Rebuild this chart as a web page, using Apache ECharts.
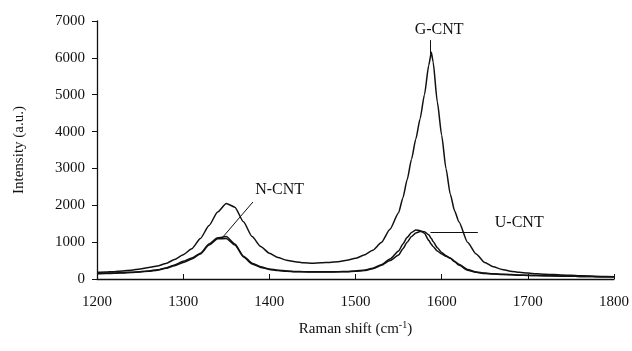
<!DOCTYPE html>
<html>
<head>
<meta charset="utf-8">
<script src="https://cdn.jsdelivr.net/npm/echarts@6/dist/echarts.min.js"></script>
<style>
  html, body { margin: 0; padding: 0; background: #fff; }
  #chart { width: 632px; height: 351px; }
</style>
</head>
<body>
<div id="chart"></div>
<script>
// Raman shift (cm-1), shared by all spectra
const shift = [1200, 1210, 1220, 1230, 1240, 1250, 1260, 1270, 1280, 1290,
  1300, 1310, 1320, 1330, 1340, 1350, 1360, 1370, 1380, 1390,
  1400, 1410, 1420, 1430, 1440, 1450, 1460, 1470, 1480, 1490,
  1500, 1510, 1520, 1530, 1540, 1550, 1555, 1560, 1565, 1570,
  1575, 1580, 1585, 1588, 1590, 1595, 1600, 1605, 1610, 1615,
  1620, 1630, 1640, 1650, 1660, 1670, 1680, 1690, 1700, 1710,
  1720, 1730, 1740, 1750, 1760, 1770, 1780, 1790, 1800];

const gCnt = [180, 190, 200, 220, 240, 270, 310, 350, 420, 530,
  660, 820, 1100, 1450, 1820, 2050, 1950, 1550, 1150, 880,
  700, 580, 510, 470, 440, 430, 440, 450, 470, 510,
  560, 650, 780, 990, 1350, 1800, 2200, 2700, 3250, 3800,
  4350, 5000, 5800, 6150, 5900, 4800, 3900, 3000, 2300, 1850,
  1550, 1000, 680, 450, 330, 260, 210, 180, 160, 140,
  130, 120, 110, 100, 90, 80, 70, 65, 60];

const nCnt = [150, 160, 165, 175, 185, 200, 220, 250, 300, 380,
  480, 570, 700, 950, 1120, 1150, 950, 620, 430, 330,
  270, 240, 220, 205, 200, 195, 195, 195, 200, 205,
  215, 240, 290, 390, 540, 760, 950, 1130, 1260, 1330,
  1310, 1240, 1050, 940, 880, 760, 680, 620, 570, 480,
  400, 260, 190, 160, 140, 130, 120, 110, 100, 95,
  90, 85, 80, 75, 70, 68, 65, 62, 60];

const uCnt = [140, 150, 155, 165, 175, 190, 210, 240, 290, 360,
  450, 540, 680, 920, 1090, 1100, 920, 600, 410, 315,
  260, 230, 210, 200, 195, 190, 190, 190, 195, 200,
  210, 230, 275, 370, 500, 650, 820, 1000, 1150, 1250,
  1290, 1285, 1200, 1100, 1020, 850, 720, 630, 560, 470,
  380, 240, 180, 150, 135, 125, 115, 105, 98, 92,
  88, 82, 78, 74, 70, 66, 63, 60, 58];

const xTicks = [1200, 1300, 1400, 1500, 1600, 1700, 1800];
const yTicks = [0, 1000, 2000, 3000, 4000, 5000, 6000, 7000];

// annotation labels and pointer lines, in data coordinates
const labels = [
  { name: 'G-CNT', at: [1597, 6760] },
  { name: 'N-CNT', at: [1412, 2420] },
  { name: 'U-CNT', at: [1690, 1520] }
];
const pointers = [
  [[1587, 6480], [1587, 6100]],
  [[1381, 2090], [1345, 1110]],
  [[1587, 1256], [1642, 1256]]
];

const font = 'Liberation Serif';
const pair = (ys) => shift.map((x, i) => [x, ys[i]]);

const chart = echarts.init(document.getElementById('chart'));

const lineSeries = (name, ys) => ({
  name: name,
  type: 'line',
  data: pair(ys),
  showSymbol: false,
  smooth: 0.2,
  smoothMonotone: 'x',
  lineStyle: { color: '#111', width: 1.5 },
  animation: false
});

chart.setOption({
  backgroundColor: '#fff',
  animation: false,
  grid: { left: 97, right: 15, top: 21, bottom: 72 },
  xAxis: {
    type: 'value',
    min: 1200,
    max: 1800,
    interval: 100,
    name: 'Raman shift (cm{sup|-1})',
    nameLocation: 'middle',
    nameGap: 41,
    nameTextStyle: {
      fontFamily: font, fontSize: 15, color: '#111',
      rich: { sup: { fontFamily: font, fontSize: 10, color: '#111', verticalAlign: 'top', padding: [0, 0, 8, 0] } }
    },
    axisLine: { show: true, lineStyle: { color: '#111', width: 1.3 } },
    axisTick: { show: true, inside: true, length: 5, lineStyle: { color: '#111' } },
    axisLabel: {
      fontFamily: font, fontSize: 15, color: '#111', margin: 16,
      formatter: (v) => (xTicks.indexOf(v) >= 0 ? String(v) : '')
    },
    splitLine: { show: false }
  },
  yAxis: {
    type: 'value',
    min: 0,
    max: 7000,
    interval: 1000,
    name: 'Intensity (a.u.)',
    nameLocation: 'middle',
    nameGap: 70,
    nameRotate: 90,
    nameTextStyle: { fontFamily: font, fontSize: 15, color: '#111' },
    axisLine: { show: true, lineStyle: { color: '#111', width: 1.3 } },
    axisTick: { show: true, inside: false, length: 5, lineStyle: { color: '#111' } },
    axisLabel: {
      fontFamily: font, fontSize: 15, color: '#111', margin: 12,
      formatter: (v) => (yTicks.indexOf(v) >= 0 ? String(v) : '')
    },
    splitLine: { show: false }
  },
  series: [
    lineSeries('G-CNT', gCnt),
    lineSeries('N-CNT', nCnt),
    Object.assign(lineSeries('U-CNT', uCnt), {
      markLine: {
        silent: true,
        symbol: 'none',
        label: { show: false },
        lineStyle: { color: '#111', width: 1, type: 'solid' },
        data: pointers.map((p) => [{ coord: p[0] }, { coord: p[1] }])
      },
      markPoint: {
        silent: true,
        symbol: 'circle',
        symbolSize: 0,
        label: {
          show: true,
          position: 'inside',
          fontFamily: font,
          fontSize: 16,
          color: '#111',
          formatter: (p) => p.name
        },
        data: labels.map((l) => ({ name: l.name, coord: l.at }))
      }
    })
  ]
});
</script>
</body>
</html>
